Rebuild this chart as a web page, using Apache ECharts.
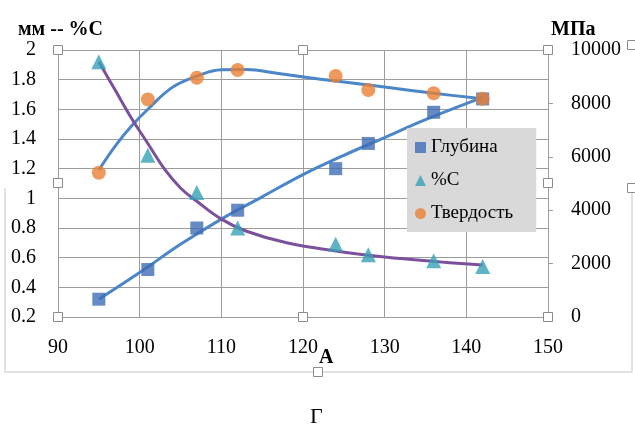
<!DOCTYPE html>
<html>
<head>
<meta charset="utf-8">
<script src="https://cdn.jsdelivr.net/npm/echarts@6/dist/echarts.min.js"></script>
<style>
  html, body { margin: 0; padding: 0; background: #fff; }
  #chart { width: 635px; height: 428px; }
</style>
</head>
<body>
<div id="chart"></div>
<script>
// measured points
const xs = [95, 101, 107, 112, 124, 128, 136, 142]
const depth = [0.32, 0.52, 0.80, 0.92, 1.20, 1.37, 1.58, 1.67]
const carbon = [1.92, 1.29, 1.04, 0.80, 0.69, 0.62, 0.58, 0.54]
const hardness = [5400, 8150, 8960, 9250, 9030, 8500, 8380, 8170]

// trend lines
const depthTrendX = [95, 100, 105, 110, 115, 120, 125, 130, 135, 142]
const depthTrend = [0.32, 0.50, 0.69, 0.86, 1.01, 1.16, 1.29, 1.41, 1.53, 1.68]
const carbonTrendX = [95, 97, 99, 101, 103, 105, 107, 110, 113, 118, 124, 130, 136, 142]
const carbonTrend = [1.92, 1.73, 1.54, 1.37, 1.20, 1.07, 0.98, 0.86, 0.78, 0.70, 0.645, 0.605, 0.575, 0.55]
const hardTrendX = [95, 97, 99, 101, 104, 107, 110, 113, 117, 121, 125, 130, 136, 142]
const hardTrend = [5500, 6400, 7150, 7780, 8600, 9020, 9260, 9270, 9120, 8950, 8800, 8610, 8380, 8170]

const seriesNames = ['Глубина', '%С', 'Твердость']

const pairs = (xv, yv) => xv.map((x, i) => [x, yv[i]])

const serif = 'Liberation Serif'
const gridColor = '#9c9c9c'

const chart = echarts.init(document.getElementById('chart'))

const handle = (x, y) => ({
  type: 'rect',
  shape: { x: x - 4.5, y: y - 4.5, width: 9, height: 9 },
  style: { fill: '#fff', stroke: '#8c8c8c', lineWidth: 1 },
  z: 100
})

const tickText = { color: '#000', fontSize: 20, fontFamily: serif }

const option = {
  animation: false,
  grid: { left: 58, right: 87, top: 50, bottom: 111 },
  legend: {
    data: seriesNames,
    orient: 'vertical',
    left: 407,
    top: 128,
    padding: [10, 23, 9, 8],
    itemGap: 14,
    itemWidth: 11,
    itemHeight: 11,
    backgroundColor: '#d9d9d9',
    textStyle: { fontFamily: serif, fontSize: 19, color: '#000' }
  },
  xAxis: {
    type: 'value',
    min: 90,
    max: 150,
    interval: 10,
    axisLine: { show: false },
    axisTick: { show: false },
    axisLabel: { ...tickText, margin: 21 },
    splitLine: { show: true, lineStyle: { color: gridColor, width: 1 } }
  },
  yAxis: [
    {
      type: 'value',
      min: 0.2,
      max: 2,
      interval: 0.2,
      axisLine: { show: false },
      axisTick: { show: false },
      axisLabel: {
        ...tickText,
        margin: 22,
        formatter: (v) => String(Math.round(v * 10) / 10)
      },
      splitLine: { show: true, lineStyle: { color: gridColor, width: 1 } }
    },
    {
      type: 'value',
      min: 0,
      max: 10000,
      interval: 2000,
      position: 'right',
      axisLine: { show: true, lineStyle: { color: gridColor, width: 1 } },
      axisTick: { show: true, length: 5, lineStyle: { color: gridColor } },
      axisLabel: { ...tickText, margin: 23, formatter: (v) => String(v) },
      splitLine: { show: false }
    }
  ],
  series: [
    {
      name: 'trend-depth',
      type: 'line',
      data: pairs(depthTrendX, depthTrend),
      smooth: 0.4,
      symbol: 'none',
      lineStyle: { color: '#4a86c8', width: 3 },
      z: 2
    },
    {
      name: 'trend-hard',
      type: 'line',
      yAxisIndex: 1,
      data: pairs(hardTrendX, hardTrend),
      smooth: 0.4,
      symbol: 'none',
      lineStyle: { color: '#4a86c8', width: 3 },
      z: 2
    },
    {
      name: 'trend-carbon',
      type: 'line',
      data: pairs(carbonTrendX, carbonTrend),
      smooth: 0.4,
      symbol: 'none',
      lineStyle: { color: '#7b519d', width: 3 },
      z: 3
    },
    {
      name: seriesNames[0],
      type: 'scatter',
      data: pairs(xs, depth),
      symbol: 'rect',
      symbolSize: 13,
      itemStyle: { color: '#3e6db5' },
      z: 5
    },
    {
      name: seriesNames[1],
      type: 'scatter',
      data: pairs(xs, carbon),
      symbol: 'triangle',
      symbolSize: 15,
      itemStyle: { color: '#36a0b6' },
      z: 5
    },
    {
      name: seriesNames[2],
      type: 'scatter',
      yAxisIndex: 1,
      data: pairs(xs, hardness),
      symbol: 'circle',
      symbolSize: 14,
      itemStyle: { color: '#ea8035' },
      z: 6
    }
  ],
  graphic: [
    {
      type: 'polyline',
      shape: { points: [[5, 188], [5, 372], [632, 372], [632, 188]] },
      style: { stroke: '#d9d9d9', lineWidth: 1.5, fill: null },
      z: 1
    },
    handle(58, 50), handle(303, 50), handle(548, 50),
    handle(58, 183), handle(548, 183),
    handle(58, 317), handle(303, 317), handle(548, 317),
    handle(318, 372), handle(632, 45), handle(632, 188),
    {
      type: 'text',
      left: 18,
      top: 20,
      style: { text: 'мм -- %С', font: 'bold 20px "Liberation Serif"', fill: '#000' }
    },
    {
      type: 'text',
      left: 551,
      top: 20,
      style: { text: 'МПа', font: 'bold 20px "Liberation Serif"', fill: '#000' }
    },
    {
      type: 'text',
      left: 319,
      top: 348,
      style: { text: 'А', font: 'bold 20px "Liberation Serif"', fill: '#000' }
    },
    {
      type: 'text',
      left: 310,
      top: 406,
      style: { text: 'Г', font: '22px "Liberation Serif"', fill: '#000' }
    }
  ]
}

chart.setOption(option)
</script>
</body>
</html>
